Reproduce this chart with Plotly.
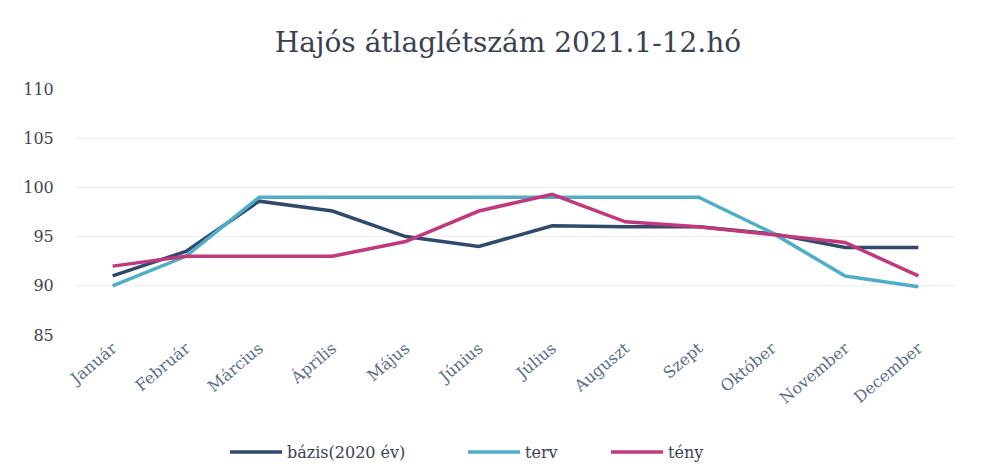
import plotly.graph_objects as go

honapok = ["Január", "Február", "Március", "Április", "Május", "Június",
           "Július", "Auguszt", "Szept", "Október", "November", "December"]

adatok = {
    "bázis(2020 év)": [91, 93.5, 98.6, 97.6, 95, 94, 96.1, 96, 96, 95.3, 93.9, 93.9],
    "terv":           [90, 93, 99, 99, 99, 99, 99, 99, 99, 95.4, 91, 89.9],
    "tény":           [92, 93, 93, 93, 94.5, 97.6, 99.3, 96.5, 96, 95.2, 94.4, 91],
}

szinek = {
    "bázis(2020 év)": "#2f4a6d",
    "terv":           "#4fadc8",
    "tény":           "#c2387c",
}

# each series gets its own legend so the entries can be spread out like the original
jelmagyarazat = {
    "bázis(2020 év)": ("legend", 217),
    "terv":           ("legend2", 455),
    "tény":           ("legend3", 598),
}

fig = go.Figure()

for nev, ertekek in adatok.items():
    fig.add_trace(go.Scatter(
        x=honapok,
        y=ertekek,
        mode='lines',
        name=nev,
        legend=jelmagyarazat[nev][0],
        line=dict(color=szinek[nev], width=3.5)
    ))

leg_style = dict(orientation='h', xanchor='left', xref='container',
                 y=0.059, yanchor='middle', yref='container',
                 font=dict(family='DejaVu Serif', size=16, color='#3a4250'),
                 itemwidth=52, bgcolor='rgba(0,0,0,0)')

fig.update_layout(
    width=986, height=472,
    title=dict(text='Hajós átlaglétszám 2021.1-12.hó',
               x=0.507, xanchor='center', y=0.928, yanchor='middle',
               font=dict(family='DejaVu Serif', size=28, color='#3a4250')),
    paper_bgcolor='white',
    plot_bgcolor='white',
    margin=dict(l=68, r=39, t=81, b=145),
    font=dict(family='DejaVu Serif', size=15, color='#4a5566'),
    showlegend=True,
    legend=dict(x=jelmagyarazat["bázis(2020 év)"][1] / 986, **leg_style),
    legend2=dict(x=jelmagyarazat["terv"][1] / 986, **leg_style),
    legend3=dict(x=jelmagyarazat["tény"][1] / 986, **leg_style),
    xaxis=dict(type='category', range=[-0.5, 11.5], tickangle=-40,
               showgrid=False, showline=False, zeroline=False,
               tickfont=dict(size=16, color='#5a6d8a')),
    yaxis=dict(range=[85, 110], dtick=5, showgrid=True, gridcolor='#eeeeee',
               gridwidth=1, zeroline=False, showline=False,
               ticks='outside', ticklen=18, tickcolor='white',
               tickfont=dict(size=16, color='#3d4655')),
)

fig.write_html("out.html")
